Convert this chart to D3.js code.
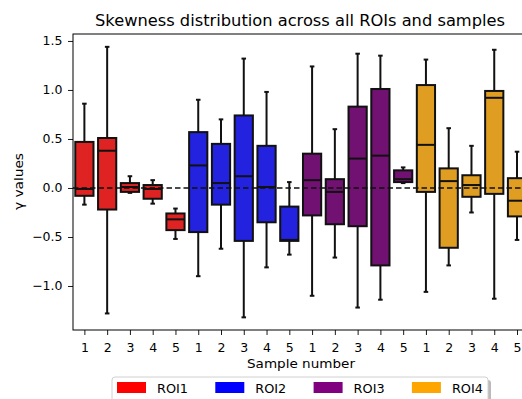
<!DOCTYPE html>
<html lang="en">
<head>
<meta charset="UTF-8">
<title>Skewness distribution</title>
<script src="https://cdn.jsdelivr.net/npm/d3@7"></script>
<style>
  body { margin: 0; background: #fff; }
  text { font-family: "DejaVu Sans", sans-serif; fill: #000; }
</style>
</head>
<body>
<svg id="chart" width="522" height="399"></svg>
<script>
// data
var rois = ["ROI1", "ROI2", "ROI3", "ROI4"];
var samples = ["1", "2", "3", "4", "5"];
var legendColors = ["#ff0000", "#0000ff", "#800080", "#ffa500"];
var boxColors = ["#df2222", "#2222df", "#711171", "#df9e22"];
var yTicks = [-1.0, -0.5, 0.0, 0.5, 1.0, 1.5];

// per box, ROI1 s1..s5, ROI2 s1..s5, ...
var whiskLow = [-0.17, -1.28, -0.05, -0.16, -0.52, -0.90, -0.62, -1.32, -0.81, -0.68,
                -1.10, -0.71, -1.22, -1.14, 0.05, -1.06, -0.79, -0.25, -1.13, -0.53];
var q1 = [-0.08, -0.22, -0.04, -0.11, -0.43, -0.45, -0.17, -0.54, -0.35, -0.54,
          -0.28, -0.37, -0.39, -0.79, 0.06, -0.04, -0.61, -0.09, -0.06, -0.29];
var median = [-0.01, 0.38, 0.01, -0.01, -0.32, 0.23, 0.05, 0.12, 0.01, -0.53,
              0.08, -0.04, 0.30, 0.33, 0.09, 0.44, 0.07, 0.03, 0.92, -0.13];
var q3 = [0.47, 0.51, 0.05, 0.03, -0.26, 0.57, 0.45, 0.74, 0.43, -0.19,
          0.35, 0.09, 0.83, 1.01, 0.18, 1.05, 0.20, 0.13, 0.99, 0.10];
var whiskHigh = [0.86, 1.44, 0.12, 0.08, -0.21, 0.90, 0.70, 1.32, 0.98, 0.06,
                 1.24, 0.60, 1.37, 1.35, 0.21, 1.31, 0.61, 0.43, 1.41, 0.37];

var svg = d3.select("#chart");
var plot = { left: 73, top: 34, bottom: 330 };
var step = 22.77;

var x = d3.scaleLinear().domain([0.5, 20.5]).range([plot.left, plot.left + 20 * step]);
var y = d3.scaleLinear().domain([-1.449, 1.571]).range([plot.bottom, plot.top]);

var boxes = [];
rois.forEach(function (r, ri) {
    samples.forEach(function (s, si) {
        var i = ri * samples.length + si;
        boxes.push({
            pos: i + 1, label: s, roi: ri,
            lo: whiskLow[i], q1: q1[i], med: median[i], q3: q3[i], hi: whiskHigh[i]
        });
    });
});

var g = svg.append("g");
var boxW = x(1.4) - x(1);
var capW = boxW / 2;

var bg = g.selectAll(".box").data(boxes).enter().append("g");

// whiskers
bg.append("line")
    .attr("x1", d => x(d.pos)).attr("x2", d => x(d.pos))
    .attr("y1", d => y(d.hi)).attr("y2", d => y(d.q3))
    .attr("stroke", "#111").attr("stroke-width", 2);
bg.append("line")
    .attr("x1", d => x(d.pos)).attr("x2", d => x(d.pos))
    .attr("y1", d => y(d.q1)).attr("y2", d => y(d.lo))
    .attr("stroke", "#111").attr("stroke-width", 2);
// caps
bg.append("line")
    .attr("x1", d => x(d.pos) - capW / 2).attr("x2", d => x(d.pos) + capW / 2)
    .attr("y1", d => y(d.hi)).attr("y2", d => y(d.hi))
    .attr("stroke", "#111").attr("stroke-width", 2);
bg.append("line")
    .attr("x1", d => x(d.pos) - capW / 2).attr("x2", d => x(d.pos) + capW / 2)
    .attr("y1", d => y(d.lo)).attr("y2", d => y(d.lo))
    .attr("stroke", "#111").attr("stroke-width", 2);
// box
bg.append("rect")
    .attr("x", d => x(d.pos) - boxW)
    .attr("width", boxW * 2)
    .attr("y", d => y(d.q3))
    .attr("height", d => y(d.q1) - y(d.q3))
    .attr("fill", d => boxColors[d.roi])
    .attr("stroke", "#111").attr("stroke-width", 2);
// median
bg.append("line")
    .attr("x1", d => x(d.pos) - boxW).attr("x2", d => x(d.pos) + boxW)
    .attr("y1", d => y(d.med)).attr("y2", d => y(d.med))
    .attr("stroke", "#111").attr("stroke-width", 2);

// dashed zero line on top
g.append("line")
    .attr("x1", x(0.5)).attr("x2", x(20.5))
    .attr("y1", y(0)).attr("y2", y(0))
    .attr("stroke", "#111").attr("stroke-width", 1.6)
    .attr("stroke-dasharray", "5.5,3");

// axes
var yAxis = d3.axisLeft(y).tickValues(yTicks).tickSize(5).tickPadding(5.5)
    .tickFormat(d => d3.format(".1f")(d).replace("-", "\u2212"));
var ya = svg.append("g").attr("transform", "translate(" + plot.left + ",0)").call(yAxis);

var xAxis = d3.axisBottom(x).tickValues(d3.range(1, 21)).tickSize(5).tickPadding(8.5)
    .tickFormat(d => boxes[d - 1].label);
var xa = svg.append("g").attr("transform", "translate(0," + plot.bottom + ")").call(xAxis);

[ya, xa].forEach(function (a) {
    a.select(".domain").remove();
    a.selectAll("line").attr("stroke", "#000").attr("stroke-width", 0.9);
    a.selectAll("text").style("font-size", "12.5px").attr("fill", "#000");
});

// spines
svg.append("rect")
    .attr("x", x(0.5)).attr("y", plot.top)
    .attr("width", x(20.5) - x(0.5)).attr("height", plot.bottom - plot.top)
    .attr("fill", "none").attr("stroke", "#000").attr("stroke-width", 1);

// labels
svg.append("text").attr("x", 300).attr("y", 26).attr("text-anchor", "middle")
    .style("font-size", "16px")
    .attr("textLength", 410).attr("lengthAdjust", "spacingAndGlyphs")
    .text("Skewness distribution across all ROIs and samples");
svg.append("text").attr("x", 301).attr("y", 368).attr("text-anchor", "middle")
    .style("font-size", "12.8px")
    .attr("textLength", 108).attr("lengthAdjust", "spacingAndGlyphs")
    .text("Sample number");
svg.append("text").attr("transform", "translate(23,181.5) rotate(-90)").attr("text-anchor", "middle")
    .style("font-size", "12.8px")
    .attr("textLength", 57).attr("lengthAdjust", "spacingAndGlyphs")
    .text("\u03b3 values");

// legend
var leg = svg.append("g");
leg.append("rect").attr("x", 115).attr("y", 380).attr("width", 376).attr("height", 40)
    .attr("rx", 3).attr("fill", "#8c8c8c").attr("opacity", 0.6);
leg.append("rect").attr("x", 112).attr("y", 377).attr("width", 376).attr("height", 40)
    .attr("rx", 3).attr("fill", "#fff").attr("stroke", "#d0d0d0").attr("stroke-width", 1);
var li = leg.selectAll(".item").data(rois).enter().append("g")
    .attr("transform", (d, i) => "translate(" + (117 + i * 98.3) + ",0)");
li.append("rect").attr("x", 0).attr("y", 382).attr("width", 29).attr("height", 11)
    .attr("fill", (d, i) => legendColors[i]);
li.append("text").attr("x", 40).attr("y", 392.8).style("font-size", "13px")
    .attr("textLength", 31).attr("lengthAdjust", "spacingAndGlyphs")
    .text(d => d);
</script>
</body>
</html>
